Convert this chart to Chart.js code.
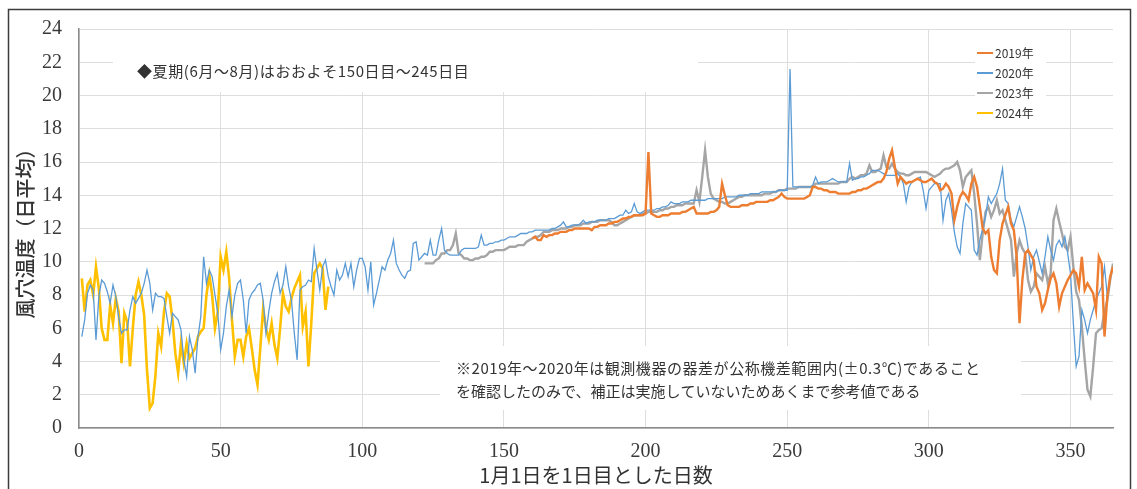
<!DOCTYPE html>
<html lang="ja">
<head>
<meta charset="utf-8">
<title>風穴温度（日平均）</title>
<script src="https://cdn.jsdelivr.net/npm/chart.js@4.4.1/dist/chart.umd.min.js"></script>
<style>
  html, body { margin: 0; padding: 0; background: #fff; }
  #wrap { position: relative; width: 1137px; height: 489px; overflow: hidden; }
  canvas { display: block; }
</style>
</head>
<body>
<div id="wrap"><canvas id="chart" width="1137" height="489"></canvas></div>
<script>
// Daily mean temperature inside the wind cave, by day of year (day 1 = Jan 1).
const seriesLabels = ['2019年', '2020年', '2023年', '2024年'];

const start2019 = 160;
const temps2019 = [
  11.4, 11.5, 11.3, 11.3, 11.6, 11.5, 11.6, 11.6, 11.7, 11.7,
  11.8, 11.8, 11.8, 11.9, 11.9, 12.0, 12.0, 12.0, 12.0, 12.0,
  12.0, 11.9, 12.1, 12.1, 12.2, 12.2, 12.2, 12.3, 12.3, 12.4,
  12.4, 12.5, 12.6, 12.6, 12.7, 12.7, 12.8, 12.8, 12.8, 12.8,
  12.9, 16.6, 12.9, 12.8, 12.7, 12.7, 12.8, 12.8, 12.8, 12.9,
  12.9, 12.9, 12.9, 13.0, 13.0, 13.1, 13.2, 13.3, 12.9, 12.9,
  12.9, 12.9, 12.9, 13.0, 13.0, 13.1, 13.3, 14.7, 14.0, 13.4,
  13.3, 13.3, 13.3, 13.3, 13.4, 13.4, 13.4, 13.5, 13.5, 13.6,
  13.6, 13.6, 13.6, 13.6, 13.7, 13.7, 13.8, 13.9, 14.1, 13.9,
  13.8, 13.8, 13.8, 13.8, 13.8, 13.8, 13.8, 13.9, 14.0, 14.5,
  14.5, 14.4, 14.4, 14.3, 14.3, 14.2, 14.2, 14.2, 14.1, 14.1,
  14.1, 14.1, 14.1, 14.2, 14.2, 14.3, 14.3, 14.4, 14.4, 14.5,
  14.6, 14.7, 14.8, 14.8, 15.0, 15.4, 16.2, 16.7, 15.7, 14.7,
  15.1, 14.9, 14.7, 14.8, 14.8, 14.9, 15.0, 14.9, 14.8, 14.8,
  14.9, 15.0, 14.8, 14.7, 14.3, 14.4, 14.7, 14.5, 14.1, 12.5,
  13.3, 13.9, 14.2, 14.0, 13.7, 14.7, 15.1, 14.5, 13.3, 12.0,
  11.7, 11.9, 10.3, 9.5, 9.3, 11.3, 12.3, 12.8, 13.3, 12.3,
  11.9, 10.3, 6.3, 8.9, 10.5, 10.7, 10.4, 10.1, 8.5, 8.1,
  7.1, 7.5, 8.3, 9.0, 9.3, 8.7, 7.3, 8.1, 8.5, 8.9,
  9.2, 9.5, 9.3, 8.5, 10.3, 8.3, 8.7, 8.4, 8.1, 7.1,
  10.3, 9.9, 5.5, 7.9, 9.1, 9.7
];

const start2020 = 1;
const temps2020 = [
  5.5, 6.5, 8.1, 8.6, 8.3, 5.3, 7.9, 8.9, 8.7, 8.2,
  7.5, 8.6, 7.9, 6.7, 5.7, 5.9, 5.9, 7.1, 7.9, 7.5,
  7.8, 8.1, 8.7, 9.5, 8.7, 7.1, 8.1, 7.9, 7.9, 7.8,
  6.7, 5.7, 6.9, 6.7, 6.5, 5.9, 4.1, 3.1, 5.5, 4.7,
  3.3, 5.5, 6.7, 10.3, 8.7, 9.5, 9.1, 8.0, 6.9, 4.7,
  5.7, 7.3, 8.3, 6.7, 8.0, 8.7, 8.9, 7.7, 5.7, 7.7,
  8.1, 8.3, 8.6, 8.7, 7.7, 5.7, 7.0, 8.1, 8.8, 9.3,
  8.1, 8.6, 9.7, 8.5, 7.7, 5.7, 4.1, 8.3, 8.5, 8.6,
  8.9, 8.8, 10.8, 9.5, 8.3, 9.7, 10.1, 9.1, 8.5, 8.0,
  9.5, 8.9, 9.2, 9.9, 9.1, 9.9, 8.5, 9.5, 10.2, 10.2,
  9.7, 8.3, 10.0, 7.4, 8.1, 8.9, 9.7, 9.5, 10.1, 10.5,
  11.3, 9.9, 9.5, 9.2, 9.0, 9.4, 9.5, 11.1, 11.2, 10.1,
  10.3, 10.5, 10.4, 11.3, 10.4, 10.4, 11.3, 12.0, 10.7, 10.5,
  10.4, 10.4, 10.4, 10.4, 10.7, 10.8, 10.8, 10.8, 10.8, 10.8,
  10.9, 11.6, 11.0, 11.0, 11.1, 11.1, 11.2, 11.2, 11.3, 11.3,
  11.4, 11.5, 11.5, 11.5, 11.6, 11.7, 11.7, 11.7, 11.8, 11.8,
  11.9, 11.9, 11.9, 11.9, 11.9, 11.9, 12.0, 12.0, 12.1, 12.2,
  12.4, 12.1, 12.1, 12.2, 12.2, 12.2, 12.3, 12.5, 12.3, 12.4,
  12.4, 12.4, 12.5, 12.5, 12.5, 12.5, 12.6, 12.6, 12.6, 12.7,
  12.8, 12.8, 13.1, 12.9, 13.0, 13.5, 13.0, 12.9, 13.0, 13.1,
  13.1, 13.1, 13.1, 13.2, 13.2, 13.3, 13.3, 13.4, 13.6, 13.5,
  13.5, 13.5, 13.6, 13.6, 13.6, 13.7, 13.7, 13.7, 13.7, 13.7,
  13.7, 13.8, 13.8, 13.8, 13.8, 13.8, 13.8, 13.9, 13.9, 13.9,
  13.9, 13.9, 14.0, 14.0, 14.0, 14.0, 14.1, 14.1, 14.1, 14.1,
  14.2, 14.2, 14.2, 14.2, 14.2, 14.2, 14.3, 14.3, 14.3, 14.3,
  21.6, 14.5, 14.5, 14.5, 14.5, 14.5, 14.5, 14.5, 14.6, 15.1,
  14.7, 14.8, 14.8, 14.8, 14.9, 15.0, 14.9, 14.8, 14.8, 14.8,
  14.8, 15.9, 14.9, 15.0, 15.0, 15.1, 15.1, 15.2, 15.3, 15.5,
  15.5, 15.5, 15.4, 15.3, 15.2, 15.2, 15.2, 15.2, 15.3, 15.1,
  14.7, 13.6, 14.5, 14.8, 14.9, 15.0, 15.1, 14.3, 13.2, 14.3,
  14.5, 14.7, 14.7, 14.7, 12.5, 13.7, 14.1, 13.1, 11.8, 10.9,
  10.5, 12.3, 13.5, 13.3, 13.1, 10.7, 10.4, 11.3, 12.0, 12.7,
  13.9, 13.5, 13.8, 14.1, 14.7, 15.6, 13.7, 13.5, 12.5, 12.1,
  12.7, 13.3, 12.7, 12.0, 10.9, 9.5, 10.3, 10.7, 10.0, 9.3,
  10.3, 11.5, 10.7, 10.1, 11.0, 11.3, 10.9, 11.5, 10.5, 9.3,
  6.3, 3.7, 4.3, 7.1, 6.5, 5.7, 6.5, 7.1, 7.7, 8.1,
  8.5, 9.7, 7.9
];

const start2023 = 122;
const temps2023 = [
  9.9, 9.9, 9.9, 9.9, 10.1, 10.2, 10.5, 10.5, 10.7, 10.7,
  11.0, 11.7, 10.5, 10.4, 10.2, 10.2, 10.1, 10.1, 10.2, 10.2,
  10.3, 10.3, 10.4, 10.6, 10.6, 10.7, 10.7, 10.7, 10.7, 10.8,
  10.9, 10.9, 10.9, 11.0, 11.0, 11.0, 11.2, 11.3, 11.4, 11.5,
  11.5, 11.6, 11.8, 11.8, 11.8, 11.9, 11.9, 11.9, 12.0, 12.0,
  12.0, 12.1, 12.1, 12.2, 12.2, 12.2, 12.3, 12.3, 12.3, 12.4,
  12.4, 12.4, 12.5, 12.5, 12.5, 12.5, 12.4, 12.2, 12.2, 12.3,
  12.4, 12.5, 12.6, 12.7, 12.8, 12.8, 12.8, 12.9, 12.9, 13.0,
  13.0, 13.0, 13.0, 13.1, 13.1, 13.2, 13.2, 13.3, 13.3, 13.4,
  13.4, 13.4, 13.5, 13.5, 13.5, 13.5, 14.3, 13.6, 15.1, 16.7,
  15.1, 14.1, 13.8, 13.7, 13.6, 13.6, 13.5, 13.5, 13.6, 13.7,
  13.8, 13.9, 13.9, 14.0, 14.0, 14.0, 14.0, 14.0, 14.0, 14.0,
  14.1, 14.1, 14.1, 14.2, 14.2, 14.3, 14.3, 14.3, 14.4, 14.4,
  14.4, 14.4, 14.5, 14.5, 14.5, 14.5, 14.5, 14.5, 14.7, 14.7,
  14.7, 14.7, 14.7, 14.7, 14.7, 14.7, 14.7, 14.8, 14.8, 14.8,
  15.0, 15.1, 15.0, 15.1, 15.2, 15.2, 15.3, 15.8, 15.4, 15.4,
  15.5, 15.6, 16.4, 15.7, 15.6, 15.9, 15.6, 15.4, 15.3, 15.3,
  15.2, 15.2, 15.3, 15.4, 15.4, 15.4, 15.4, 15.4, 15.3, 15.2,
  15.1, 15.2, 15.3, 15.5, 15.6, 15.6, 15.7, 15.8, 16.0, 15.5,
  14.5, 15.1, 15.3, 15.5, 14.1, 12.3, 10.1, 11.7, 13.0, 13.3,
  12.7, 13.1, 13.7, 12.9, 13.1, 12.5, 11.9, 11.3, 9.1, 10.5,
  11.3, 10.8, 10.5, 8.9, 8.2, 8.5, 9.3, 9.1, 8.9, 9.7,
  8.7, 9.3, 12.5, 13.2, 12.4, 11.7, 10.9, 10.7, 11.5, 9.7,
  8.2, 7.7, 6.1, 4.1, 2.3, 1.9, 3.7, 5.7, 5.9, 6.0,
  7.0, 7.7, 8.9, 9.9
];

const start2024 = 1;
const temps2024 = [
  9.0, 7.0, 8.6, 8.9, 8.0, 9.7, 8.4, 6.0, 5.3, 5.3,
  7.4, 6.3, 7.8, 7.0, 3.9, 6.9, 6.4, 3.7, 6.0, 8.0,
  8.8, 8.0, 6.8, 3.5, 1.2, 1.5, 3.2, 5.7, 4.9, 7.0,
  8.1, 7.9, 6.5, 4.5, 3.3, 5.1, 3.9, 5.1, 4.2, 4.5,
  4.8, 5.5, 5.8, 6.0, 8.0, 9.2, 8.0, 6.0, 7.0, 10.3,
  9.5, 10.6, 9.0, 6.5, 4.3, 5.3, 5.3, 4.3, 5.5, 6.0,
  4.8, 3.5, 2.6, 4.8, 7.2, 6.0, 5.3, 6.3, 5.0, 4.2,
  6.0, 8.1, 7.3, 7.0, 7.8, 8.4, 8.8, 9.2, 6.1, 7.0,
  3.7, 6.3, 9.3, 9.6, 9.9, 9.6, 7.1, 8.5
];

// Axis ranges and tick spacing
const dayMin = 0, dayMax = 365, dayStep = 50;
const tempMin = 0, tempMax = 24, tempStep = 2;

const summerNote = '◆夏期(6月～8月)はおおよそ150日目～245日目';
const deviceNote = [
  '※2019年～2020年は観測機器の器差が公称機差範囲内(±0.3℃)であること',
  'を確認したのみで、補正は実施していないためあくまで参考値である'
];

const toPoints = (start, values) => values.map((v, i) => ({ x: start + i, y: v }));

const CJK = '"Noto Sans CJK JP", "Noto Sans", sans-serif';
const SERIF = '"Liberation Serif", "DejaVu Serif", serif';

// White panels behind the notes and the legend, then the texts, legend and frame.
const decorations = {
  id: 'decorations',
  beforeDatasetsDraw(chart) {
    const ctx = chart.ctx;
    ctx.save();
    ctx.fillStyle = '#ffffff';
    ctx.fillRect(113, 30, 585, 62);
    ctx.fillRect(440, 346, 581, 64);
    ctx.fillRect(975, 40, 71, 84);
    ctx.restore();
  },
  afterDraw(chart) {
    const ctx = chart.ctx;
    ctx.save();
    ctx.fillStyle = '#333333';
    ctx.textBaseline = 'middle';
    ctx.textAlign = 'left';
    ctx.font = '15px ' + CJK;
    ctx.letterSpacing = '0.6px';
    ctx.fillText(summerNote, 137, 71);
    ctx.letterSpacing = '0.55px';
    ctx.fillText(deviceNote[0], 456, 368);
    ctx.letterSpacing = '0px';
    ctx.fillText(deviceNote[1], 456, 391);

    // legend
    ctx.font = '12px ' + CJK;
    chart.data.datasets.forEach((ds, i) => {
      const y = 53 + i * 20;
      ctx.strokeStyle = ds.borderColor;
      ctx.lineWidth = 2;
      ctx.beginPath();
      ctx.moveTo(977, y);
      ctx.lineTo(993, y);
      ctx.stroke();
      ctx.fillStyle = '#333333';
      ctx.fillText(ds.label, 995, y);
    });

    // outer frame
    ctx.strokeStyle = '#3c3c3c';
    ctx.lineWidth = 1.5;
    ctx.strokeRect(8.5, 9.5, 1122, 520);
    ctx.restore();
  }
};

const lineStyle = (label, color, width, start, values) => ({
  label,
  data: toPoints(start, values),
  borderColor: color,
  backgroundColor: color,
  borderWidth: width,
  pointRadius: 0,
  tension: 0,
  fill: false
});

new Chart(document.getElementById('chart'), {
  type: 'line',
  data: {
    datasets: [
      lineStyle(seriesLabels[0], '#ED7D31', 2.4, start2019, temps2019),
      lineStyle(seriesLabels[1], '#5B9BD5', 1.3, start2020, temps2020),
      lineStyle(seriesLabels[2], '#A5A5A5', 2.4, start2023, temps2023),
      lineStyle(seriesLabels[3], '#FFC000', 2.6, start2024, temps2024)
    ]
  },
  options: {
    responsive: false,
    animation: false,
    devicePixelRatio: 1,
    parsing: true,
    layout: { padding: { left: 0, top: 27, right: 24, bottom: 0 } },
    plugins: {
      legend: { display: false },
      tooltip: { enabled: false },
      title: { display: false }
    },
    scales: {
      x: {
        type: 'linear',
        min: dayMin,
        max: dayMax,
        ticks: {
          stepSize: dayStep,
          includeBounds: false,
          maxRotation: 0,
          autoSkip: false,
          padding: 12,
          color: '#3a3a3a',
          font: { family: SERIF, size: 20 }
        },
        grid: { color: '#dedede', lineWidth: 1, drawTicks: false },
        border: { display: true, color: '#8a8a8a', width: 1.5 },
        title: {
          display: true,
          text: '1月1日を1日目とした日数',
          color: '#333333',
          font: { family: CJK, size: 20 },
          padding: { top: 0, bottom: 2 }
        },
        afterFit(scale) { scale.height = 61; }
      },
      y: {
        min: tempMin,
        max: tempMax,
        ticks: {
          stepSize: tempStep,
          padding: 17,
          color: '#3a3a3a',
          font: { family: SERIF, size: 20 }
        },
        grid: { color: '#dedede', lineWidth: 1, drawTicks: false },
        border: { display: true, color: '#8a8a8a', width: 1.5 },
        title: {
          display: true,
          text: '風穴温度（日平均）',
          color: '#333333',
          font: { family: CJK, size: 20, weight: '500' },
          padding: { top: 13, bottom: 0 }
        },
        afterFit(scale) { scale.width = 79; }
      }
    }
  },
  plugins: [decorations]
});
</script>
</body>
</html>
